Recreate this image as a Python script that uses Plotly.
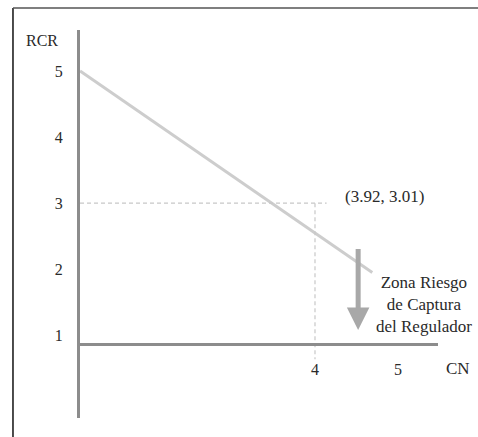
import plotly.graph_objects as go

# ---- data ----
y_tick_vals = [1, 2, 3, 4, 5]
y_tick_text = ["1", "2", "3", "4", "5"]
x_tick_vals = [4, 5]
x_tick_text = ["4", "5"]

line_x = [1.17, 4.69]
line_y = [5.0, 1.95]

guide_x = 4.0
guide_y = 3.0
guide_x_end = 4.14
guide_y_bottom = 0.64
point_label = "(3.92, 3.01)"

arrow_x = 4.52
arrow_y_from = 2.33
arrow_y_to = 1.08

zone_label = "Zona Riesgo<br>de Captura<br>del Regulador"
x_title = "CN"
y_title = "RCR"

x_range = [1.169, 5.482]
y_range = [-0.25, 5.62]
xaxis_pos_y = 0.87

FONT = "Liberation Serif"
TXT = "#2a2a2a"
AXIS = "#8c8c8c"

fig = go.Figure()

fig.add_trace(go.Scatter(
    x=line_x, y=line_y, mode="lines",
    line=dict(color="#cdcdcd", width=3),
    hoverinfo="skip", showlegend=False,
))

# dashed guides
fig.add_trace(go.Scatter(
    x=[x_range[0], guide_x_end], y=[guide_y, guide_y], mode="lines",
    line=dict(color="#c8c8c8", width=1.2, dash="4px,3px"),
    hoverinfo="skip", showlegend=False,
))
fig.add_trace(go.Scatter(
    x=[guide_x, guide_x], y=[guide_y, guide_y_bottom], mode="lines",
    line=dict(color="#c8c8c8", width=1.2, dash="4px,3px"),
    hoverinfo="skip", showlegend=False,
))

ypos = (xaxis_pos_y - y_range[0]) / (y_range[1] - y_range[0])

fig.update_layout(
    width=478, height=437,
    margin=dict(l=80, r=40, t=30, b=19),
    paper_bgcolor="white", plot_bgcolor="white",
    font=dict(family=FONT, size=16, color=TXT),
    xaxis=dict(
        range=x_range, tickvals=x_tick_vals, ticktext=x_tick_text,
        showgrid=False, zeroline=False,
        showline=True, linecolor=AXIS, linewidth=3,
        anchor="free", position=ypos,
        ticks="outside", ticklen=10, tickcolor="rgba(0,0,0,0)",
        tickfont=dict(family=FONT, size=16, color=TXT),
    ),
    yaxis=dict(
        range=y_range, tickvals=y_tick_vals, ticktext=y_tick_text,
        showgrid=False, zeroline=False,
        showline=True, linecolor=AXIS, linewidth=3,
        ticks="outside", ticklen=11, tickcolor="rgba(0,0,0,0)",
        tickfont=dict(family=FONT, size=16, color=TXT),
    ),
    shapes=[
        # page frame (left and top)
        dict(type="line", xref="paper", yref="paper",
             x0=-0.1872, x1=-0.1872, y0=1.0567, y1=-0.06,
             line=dict(color="#111111", width=1.5)),
        dict(type="line", xref="paper", yref="paper",
             x0=-0.1872, x1=1.12, y0=1.0567, y1=1.0567,
             line=dict(color="#555555", width=1.5)),
    ],
    annotations=[
        dict(x=-0.106, y=0.974, xref="paper", yref="paper", text=y_title,
             showarrow=False, font=dict(family=FONT, size=16, color=TXT),
             xanchor="center", yanchor="middle"),
        dict(x=1.056, y=0.1263, xref="paper", yref="paper", text=x_title,
             showarrow=False, font=dict(family=FONT, size=17, color=TXT),
             xanchor="center", yanchor="middle"),
        dict(x=4.843, y=3.094, xref="x", yref="y", text=point_label,
             showarrow=False, font=dict(family=FONT, size=17, color=TXT),
             xanchor="center", yanchor="middle"),
        dict(x=5.313, y=1.46, xref="x", yref="y", text=zone_label,
             showarrow=False, font=dict(family=FONT, size=17, color=TXT),
             xanchor="center", yanchor="middle", align="center"),
        dict(x=arrow_x, y=arrow_y_to, ax=arrow_x, ay=arrow_y_from,
             xref="x", yref="y", axref="x", ayref="y", text="",
             showarrow=True, arrowhead=2, arrowsize=0.9, arrowwidth=5,
             arrowcolor="#a8a8a8", standoff=0),
    ],
)

fig.write_html("out.html", config={"displayModeBar": False},
               post_script="document.body.style.margin='0';")
